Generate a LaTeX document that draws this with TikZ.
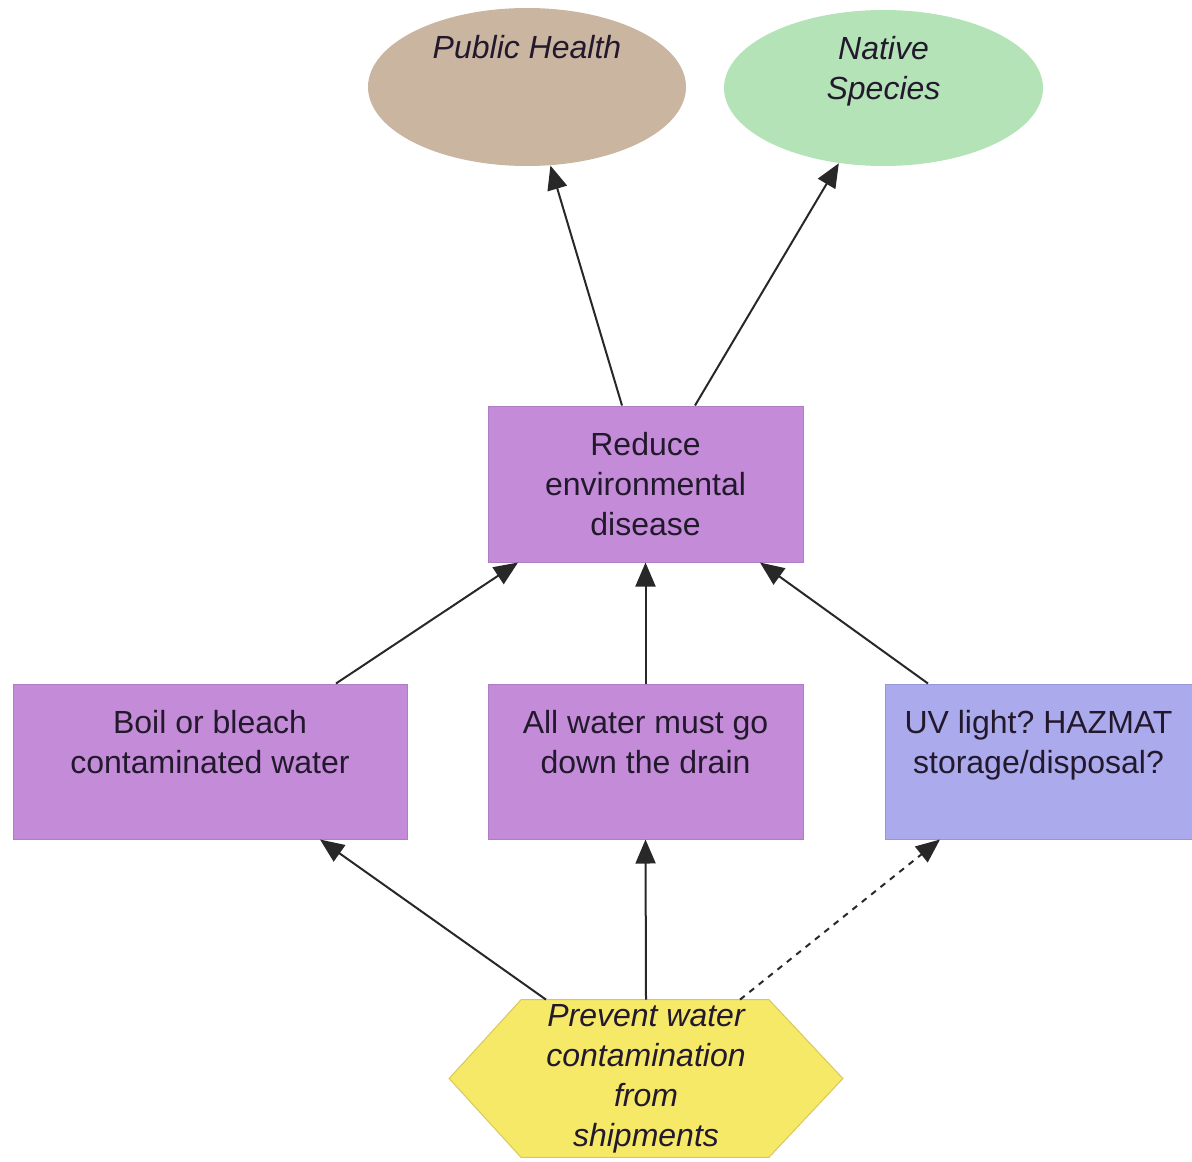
\documentclass[tikz,border=0pt]{standalone}
\usepackage{fontspec}
\setmainfont{Liberation Sans}
\frenchspacing
\usetikzlibrary{arrows.meta,shapes.geometric,backgrounds}
\definecolor{boxpurple}{RGB}{196,140,216}
\definecolor{boxedge}{RGB}{175,125,195}
\definecolor{uvblue}{RGB}{170,170,236}
\definecolor{uvedge}{RGB}{150,150,215}
\definecolor{tan}{RGB}{201,181,160}
\definecolor{mint}{RGB}{180,227,183}
\definecolor{hexyellow}{RGB}{246,233,104}
\definecolor{hexedge}{RGB}{215,200,90}
\definecolor{txt}{RGB}{35,25,45}
\definecolor{linec}{RGB}{40,40,40}
\begin{document}
\begin{tikzpicture}[x=0.5pt,y=-0.5pt,
  every node/.style={font=\fontsize{16pt}{20pt}\selectfont, text=txt, align=center, inner sep=0pt},
  goalbox/.style={rectangle, fill=boxpurple, draw=boxedge, line width=0.5pt},
  oval/.style={ellipse, draw=none, font=\fontsize{16pt}{20pt}\selectfont\itshape},
  conn/.style={draw=linec, line width=1pt, -{Triangle[length=12pt,width=10pt]}}
]
\useasboundingbox (0,0) rectangle (1192,1161);

\node[oval, fill=tan, minimum width=159pt, minimum height=79pt] (ph) at (527,87) {Public Health\\\mbox{}\\\mbox{}};
\node[oval, fill=mint, minimum width=159.5pt, minimum height=78pt] (ns) at (883.5,88) {Native\\Species\\\mbox{}};

\node[goalbox, minimum width=157.5pt, minimum height=78pt] (reduce) at (645.5,484) {Reduce\\environmental\\disease};

\node[goalbox, minimum width=197pt, minimum height=77.5pt] (boil) at (210,761.5) {Boil or bleach\\contaminated water\\\mbox{}};
\node[goalbox, minimum width=157.5pt, minimum height=77.5pt] (water) at (645.5,761.5) {All water must go\\down the drain\\\mbox{}};
\node[rectangle, fill=uvblue, draw=uvedge, line width=0.5pt, minimum width=153.5pt, minimum height=77.5pt] (uv) at (1038.5,761.5) {UV light? HAZMAT\\storage/disposal?\\\mbox{}};

\node[minimum width=196.5pt, minimum height=78.5pt, font=\fontsize{16pt}{20pt}\selectfont\itshape] (hex) at (646,1078.5) {Prevent water\\contamination\\from\\shipments};
\begin{scope}[on background layer]
\filldraw[fill=hexyellow, draw=hexedge, line width=0.5pt]
  (hex.west) -- ([xshift=36pt]hex.north west) -- ([xshift=-37pt]hex.north east)
  -- (hex.east) -- ([xshift=-37pt]hex.south east) -- ([xshift=36pt]hex.south west) -- cycle;
\end{scope}

\draw[conn] ([xshift=-11.75pt]reduce.north) -- (ph);
\draw[conn] ([xshift=24.75pt]reduce.north) -- (ns);

\draw[conn] ([xshift=63pt]boil.north) -- ([xshift=-63.75pt]reduce.south);
\draw[conn] (water.north) -- (reduce.south);
\draw[conn] ([xshift=-55.25pt]uv.north) -- ([xshift=57.25pt]reduce.south);

\draw[conn] ([xshift=-50pt]hex.north) -- ([xshift=55pt]boil.south);
\draw[conn] (hex.north) -- (water.south);
\draw[conn, dashed] ([xshift=47pt]hex.north) -- ([xshift=-49.25pt]uv.south);
\end{tikzpicture}
\end{document}
